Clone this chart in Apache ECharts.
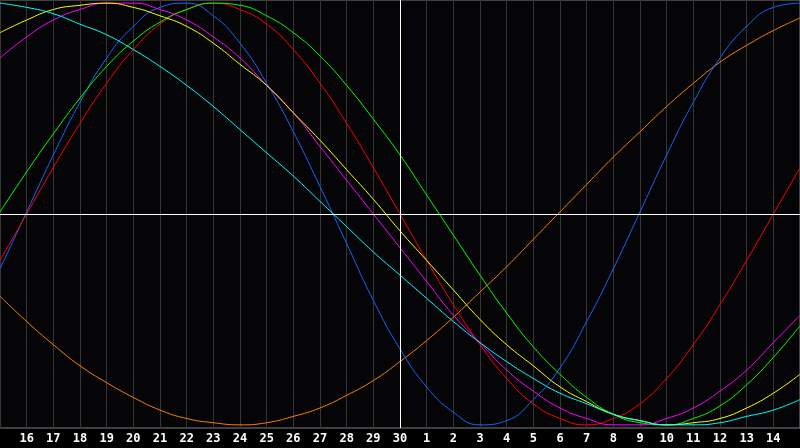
<!DOCTYPE html>
<html lang="en">
<head>
    <meta charset="UTF-8">
    <title>Biorhythm</title>
    <script src="https://cdn.jsdelivr.net/npm/echarts@6/dist/echarts.min.js"></script>
    <style>
        html, body { margin: 0; padding: 0; background: #000; }
    </style>
</head>
<body>
<div id="main" style="width: 800px;height:448px;"></div>
<script type="text/javascript">
    // days shown on the x axis (15th .. 30th, then 1st .. 15th)
    var days = ['15','16','17','18','19','20','21','22','23','24','25','26','27','28','29','30',
                '1','2','3','4','5','6','7','8','9','10','11','12','13','14','15'];

    // values in percent at each day line
    var blue    = [-26,1,28,53,74,89,98,100,94,81,62,39,13,-14,-41,-64,-82,-94,-100,-98,-88,-73,-51,-26,1,28,53,74,89,98,100];
    var red     = [-22,0,22,43,62,78,90,97,100,97,90,78,62,43,22,0,-22,-43,-62,-78,-90,-97,-100,-97,-90,-78,-62,-43,-22,0,22];
    var green   = [1,20,38,55,70,82,91,97,100,99,94,86,75,61,45,28,9,-10,-29,-47,-63,-76,-87,-95,-99,-100,-97,-91,-81,-68,-53];
    var magenta = [74,84,92,97,100,100,97,92,84,74,61,48,32,16,0,-16,-32,-48,-61,-74,-84,-92,-97,-100,-100,-97,-92,-84,-74,-61,-48];
    var yellow  = [86,92,97,99,100,98,94,89,81,71,61,48,35,21,7,-8,-22,-36,-50,-62,-72,-82,-89,-95,-98,-100,-99,-97,-92,-85,-76];
    var orange  = [-39,-51,-62,-72,-80,-87,-93,-97,-99,-100,-99,-96,-92,-86,-79,-70,-60,-49,-37,-25,-12,1,14,27,39,51,62,72,80,87,93];
    var cyan    = [100,98,95,90,85,78,70,61,51,40,29,18,6,-6,-18,-29,-40,-51,-61,-70,-78,-85,-90,-95,-98,-100,-100,-99,-96,-93,-88];

    var chartDom = document.getElementById('main');
    var myChart = echarts.init(chartDom);
    var option;

    function curve(name, data, color) {
        return {
            name: name,
            type: 'line',
            data: data,
            smooth: true,
            symbol: 'none',
            silent: true,
            animation: false,
            lineStyle: { color: color, width: 1 }
        };
    }

    var series = [
        curve('orange', orange, '#ff7f00'),
        curve('blue', blue, '#1466ff'),
        curve('red', red, '#ff0000'),
        curve('green', green, '#00ff00'),
        curve('magenta', magenta, '#ff00ff'),
        curve('yellow', yellow, '#ffff00'),
        curve('cyan', cyan, '#00ffff')
    ];
    // today line and zero line
    series[0].markLine = {
        silent: true,
        symbol: 'none',
        label: { show: false },
        animation: false,
        lineStyle: { color: '#ffffff', width: 1, type: 'solid' },
        data: [{ xAxis: '30' }, { yAxis: 0 }]
    };

    option = {
        backgroundColor: '#000000',
        animation: false,
        grid: {
            left: 0,
            right: 0,
            top: 0,
            bottom: 20,
            show: true,
            backgroundColor: '#050508',
            borderColor: '#808080',
            borderWidth: 1
        },
        xAxis: {
            type: 'category',
            data: days,
            boundaryGap: false,
            axisLine: { lineStyle: { color: '#808080' } },
            axisTick: { show: false },
            axisLabel: {
                color: '#ffffff',
                fontFamily: 'DejaVu Sans Mono',
                fontWeight: 'bold',
                fontSize: 12,
                margin: 5,
                interval: function (idx) { return idx > 0 && idx < days.length - 1; }
            },
            splitLine: { show: true, interval: 0, lineStyle: { color: '#363636', width: 1 } }
        },
        yAxis: {
            type: 'value',
            min: -101.5,
            max: 101.5,
            show: false,
            splitLine: { show: false }
        },
        series: series
    };

    option && myChart.setOption(option);
</script>
</body>
</html>
